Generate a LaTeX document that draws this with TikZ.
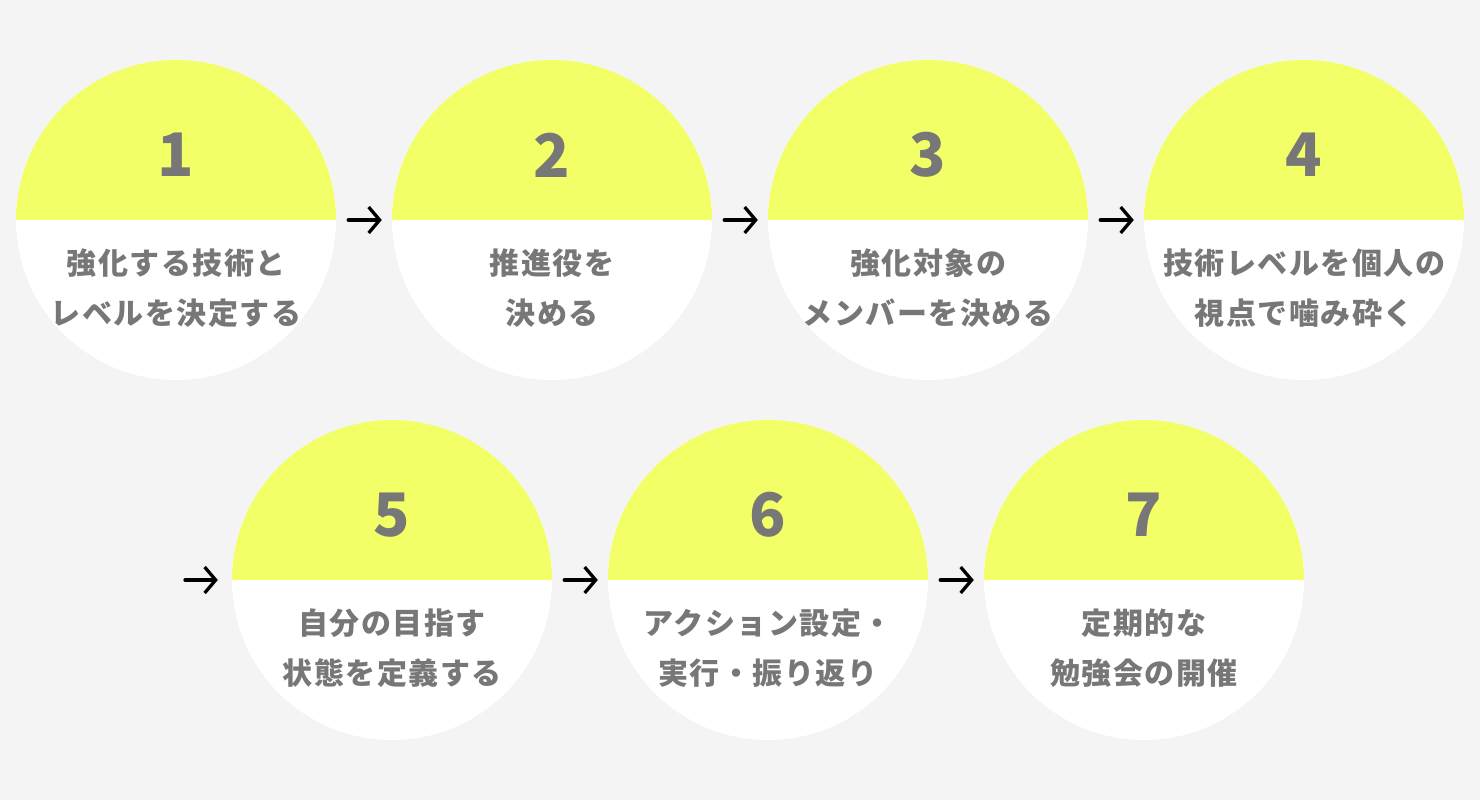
\documentclass[tikz,border=0pt]{standalone}
\usepackage{fontspec}
\setmainfont{Noto Sans CJK JP}
\definecolor{bgray}{RGB}{244, 244, 244}
\definecolor{lemon}{RGB}{243, 255, 102}
\definecolor{inkgray}{RGB}{119, 119, 119}
\usetikzlibrary{arrows.meta, positioning}

\begin{document}
\begin{tikzpicture}[x=1pt, y=-1pt,
    stepdisc/.style={circle, fill=white, minimum size=320pt, inner sep=0pt,
      path picture={\fill[lemon] (path picture bounding box.north west) rectangle
        (path picture bounding box.east);}},
    stepnum/.style={text=inkgray, font=\fontsize{60}{60}\selectfont\bfseries},
    steptext/.style={text=inkgray, align=center, inner sep=0pt,
      font=\fontsize{30}{50}\selectfont\bfseries\addfontfeature{LetterSpace=5}},
    flow/.style={-{Straight Barb[length=11pt, width=26pt]}, line width=3.3pt, line cap=round}]
  \fill[bgray] (0,0) rectangle (1480,800);
  \useasboundingbox (0,0) rectangle (1480,800);

  % top row
  \node[stepdisc] (c1) at (176,220) {};
  \node[stepdisc] (c2) at (552,220) {};
  \node[stepdisc] (c3) at (928,220) {};
  \node[stepdisc] (c4) at (1304,220) {};
  % bottom row
  \node[stepdisc] (c5) at (392,580) {};
  \node[stepdisc] (c6) at (768,580) {};
  \node[stepdisc] (c7) at (1144,580) {};

  \node[stepnum] (n1) at ([yshift=65pt]c1) {1};
  \node[stepnum] (n2) at ([yshift=65pt]c2) {2};
  \node[stepnum] (n3) at ([yshift=65pt]c3) {3};
  \node[stepnum] (n4) at ([yshift=65pt]c4) {4};
  \node[stepnum] (n5) at ([yshift=65pt]c5) {5};
  \node[stepnum] (n6) at ([yshift=65pt]c6) {6};
  \node[stepnum] (n7) at ([yshift=65pt]c7) {7};

  \node[steptext] (t1) at ([yshift=-68pt]c1) {強化する技術と\\レベルを決定する};
  \node[steptext] (t2) at ([yshift=-68pt]c2) {推進役を\\決める};
  \node[steptext] (t3) at ([yshift=-68pt]c3) {強化対象の\\メンバーを決める};
  \node[steptext] (t4) at ([yshift=-68pt]c4) {技術レベルを個人の\\視点で噛み砕く};
  \node[steptext] (t5) at ([yshift=-68pt]c5) {自分の目指す\\状態を定義する};
  \node[steptext] (t6) at ([yshift=-68pt]c6) {アクション設定・\\実行・振り返り};
  \node[steptext] (t7) at ([yshift=-68pt]c7) {定期的な\\勉強会の開催};

  % arrows
  \coordinate (s5) at (185,580);
  \draw[flow, shorten <=12pt, shorten >=10pt] (c1) -- (c2);
  \draw[flow, shorten <=12pt, shorten >=10pt] (c2) -- (c3);
  \draw[flow, shorten <=12pt, shorten >=10pt] (c3) -- (c4);
  \draw[flow, shorten >=14pt] (s5) -- (c5);
  \draw[flow, shorten <=12pt, shorten >=10pt] (c5) -- (c6);
  \draw[flow, shorten <=12pt, shorten >=10pt] (c6) -- (c7);
\end{tikzpicture}
\end{document}
